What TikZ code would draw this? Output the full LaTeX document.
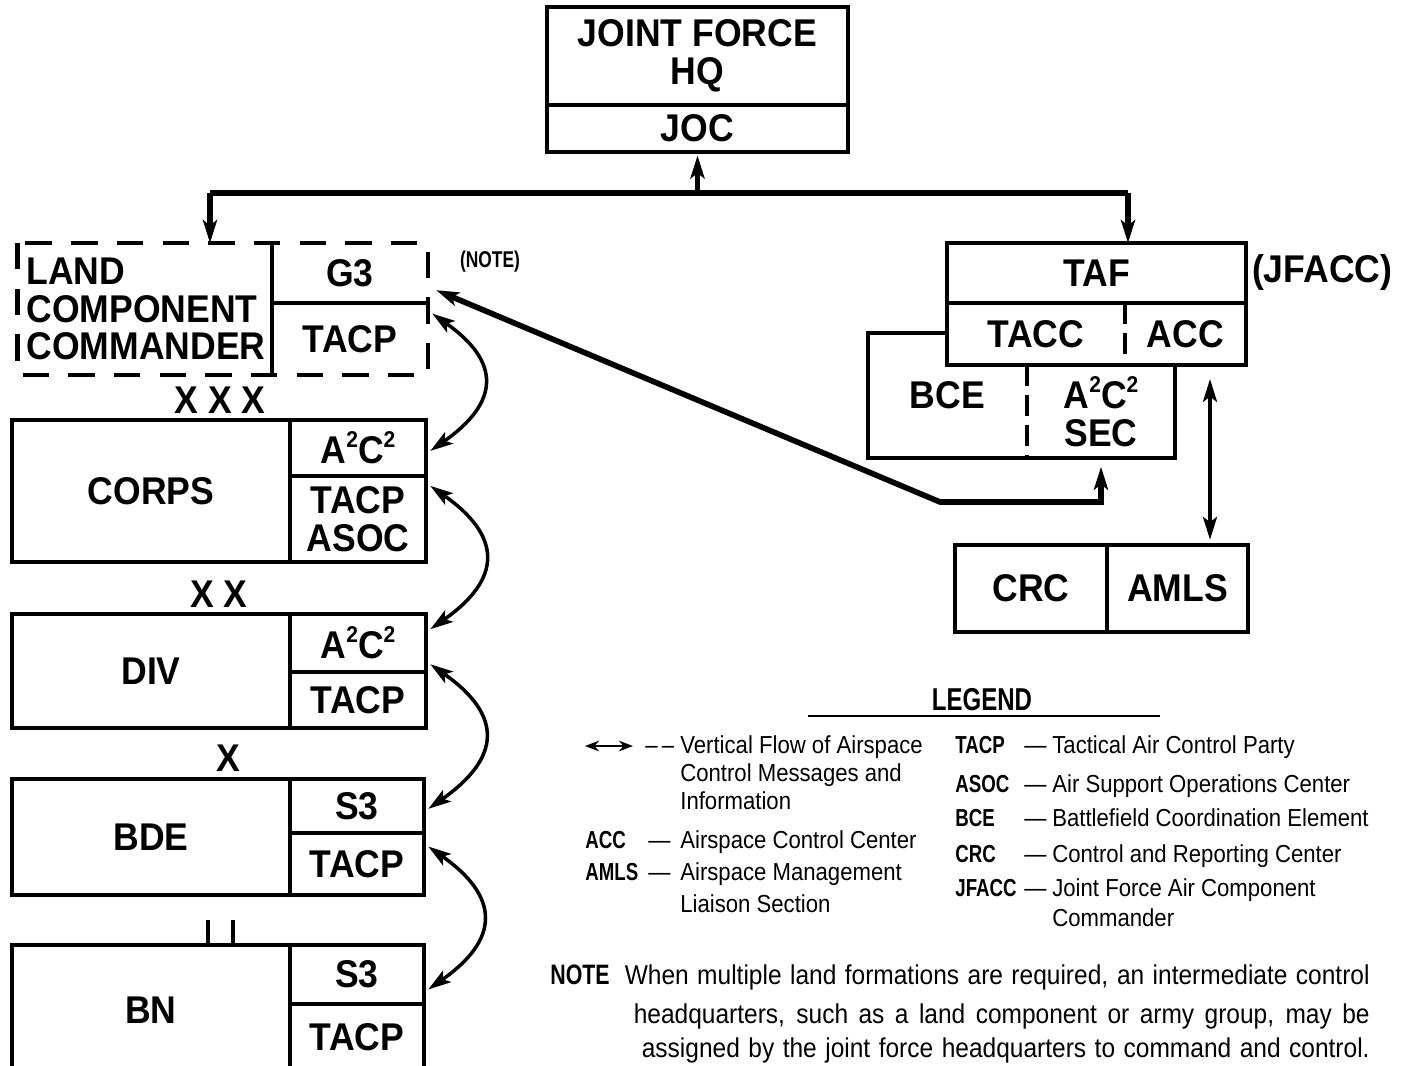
\documentclass[tikz,border=0pt]{standalone}
\usepackage{fontspec}
\setmainfont{Liberation Sans}
\newfontfamily\boxfont{Liberation Sans}[FakeStretch=0.92]
\newfontfamily\legfont{Liberation Sans}[FakeStretch=0.9]
\newfontfamily\keyfont{Liberation Sans}[FakeStretch=0.76]
\newcommand\sqd{\raisebox{0.42em}{\fontsize{13}{13}\selectfont 2}}
\usetikzlibrary{arrows.meta}

\begin{document}
\begin{tikzpicture}[x=0.02cm, y=-0.02cm,
  >={Stealth[length=13pt,width=8pt,inset=3pt]},
  cell/.style={draw, line width=1.8pt, inner sep=0pt, outer sep=0pt, align=center,
    font=\boxfont\bfseries\fontsize{22}{21.5}\selectfont},
  bare/.style={cell, draw=none},
  wh/.style 2 args={minimum width=#1*0.02cm, minimum height=#2*0.02cm},
  boxline/.style={line width=2.8pt},
  divline/.style={line width=1.8pt},
  bus/.style={line width=3.2pt},
  flow/.style={line width=2pt, <->, shorten <=3pt, shorten >=3pt},
  swing/.style={out=-35, in=35, looseness=1.6},
  legtxt/.style={font=\legfont\fontsize{14}{16}\selectfont, anchor=base west, inner sep=0pt},
  legkey/.style={legtxt, font=\keyfont\bfseries\fontsize{14}{16}\selectfont},
  notetxt/.style={font=\legfont\fontsize{15.5}{18}\selectfont, inner sep=0pt}]

\useasboundingbox (0,0) rectangle (1413,1065);

% joint force headquarters
\node[cell, wh={301}{98}] (hq) at (697.5,56) {JOINT FORCE\\HQ};
\node[cell, wh={301}{47}] (joc) at (697.5,128.5) {JOC};
\draw[boxline] (hq.north west) rectangle (joc.south east);

% land component commander
\node[bare, wh={257}{132}, align=left] (lcc) at (146,309) {LAND\\COMPONENT\\COMMANDER};
\node[bare, wh={156}{60}] (lccG) at (350,273) {G3};
\node[bare, wh={156}{72}] (lccT) at (350,339) {TACP};
\draw[boxline, dash pattern=on 15pt off 11pt] (lcc.north west) rectangle (lccT.south east);
\draw[divline] (lccG.north west) -- (lccT.south west) (lccG.south west) -- (lccG.south east);
\node[bare, font=\keyfont\bfseries\fontsize{13}{12}\selectfont] (noteref) at (490,262) {(NOTE)};

% corps
\node[bare] (echCorps) at (220,400) {X X X};
\node[cell, wh={278}{142}] (corps) at (151,491) {CORPS};
\node[cell, wh={136}{56}] (corpsA) at (358,448) {A\sqd C\sqd};
\node[cell, wh={136}{86}] (corpsT) at (358,519) {TACP\\ASOC};
\draw[boxline] (corps.north west) rectangle (corpsT.south east);

% division
\node[bare] (echDiv) at (219,594) {X X};
\node[cell, wh={278}{114}] (div) at (151,671) {DIV};
\node[cell, wh={136}{58}] (divA) at (358,643) {A\sqd C\sqd};
\node[cell, wh={136}{56}] (divT) at (358,700) {TACP};
\draw[boxline] (div.north west) rectangle (divT.south east);

% brigade
\node[bare] (echBde) at (228,758) {X};
\node[cell, wh={278}{116}] (bde) at (151,837) {BDE};
\node[cell, wh={134}{54}] (bdeS) at (357,806) {S3};
\node[cell, wh={134}{62}] (bdeT) at (357,864) {TACP};
\draw[boxline] (bde.north west) rectangle (bdeT.south east);

% battalion
\draw[line width=2.2pt] (208,920) -- (208,945) (233,920) -- (233,945);
\node[cell, wh={278}{130}] (bn) at (151,1010) {BN};
\node[cell, wh={134}{59}] (bnS) at (357,974.5) {S3};
\node[cell, wh={134}{66}] (bnT) at (357,1037) {TACP};
\draw[boxline] (bn.north west) rectangle (bnT.south east);

% air force side
\node[cell, wh={299}{60}] (taf) at (1096.5,273) {TAF};
\node[bare, wh={178}{62}] (tacc) at (1036,334) {TACC};
\node[bare, wh={121}{62}] (acc) at (1185.5,334) {ACC};
\node[bare, wh={159}{125}] (bce) at (947.5,395.5) {BCE};
\node[bare, wh={148}{93}] (sec) at (1101,411.5) {A\sqd C\sqd\\SEC};
\draw[boxline] (tacc.west |- bce.north) -- (bce.north west) -- (bce.south west)
  -- (sec.south east) -- (sec.north east);
\draw[boxline] (taf.north west) rectangle (acc.south east);
\draw[divline, dash pattern=on 12pt off 5pt] (tacc.north east) -- (tacc.south east);
\draw[divline, dash pattern=on 12pt off 5pt] (sec.north west) -- (sec.south west);
\node[bare, anchor=west] (jfacc) at (1252,273) {(JFACC)};

\node[cell, wh={152}{87}] (crc) at (1031,588.5) {CRC};
\node[cell, wh={141}{87}] (amls) at (1177.5,588.5) {AMLS};
\draw[boxline] (crc.north west) rectangle (amls.south east);

% command lines
\coordinate (busL) at (210,193);
\coordinate (busR) at (1128,193);
\coordinate (bend) at (940,502);
\coordinate (vflow) at (1210,0);
\draw[bus] (busL) -- (busR);
\draw[bus, ->] (busL) -- (busL |- lcc.north);
\draw[bus, ->] (busR) -- (busR |- taf.north);
\draw[bus, ->, shorten >=2pt] (busL -| joc.south) -- (joc.south);

% airspace control flow
\draw[flow] (lccT.20) to[swing] (corpsA.-5);
\draw[flow] (corpsT.28) to[swing] (divA.9);
\draw[flow] (divA.-15) to[swing] (bdeS.-5);
\draw[flow] (bdeT.17) to[swing] (bnS.-15);
\draw[flow, line width=3.2pt, shorten <=5pt, shorten >=5pt] (lccG.-10) -- (bend) -| (sec.south);
\draw[flow, shorten <=8pt] (vflow |- acc.south) -- (vflow |- amls.north);

% legend
\node[legkey, anchor=center, font=\keyfont\bfseries\fontsize{18}{18}\selectfont] (legend) at (982,700) {LEGEND};
\draw[line width=1.5pt] (808,716) -- (1160,716);
\coordinate (keyL) at (585,746);
\coordinate (keyR) at (633,746);
\draw[<->, line width=1.5pt, >={Stealth[length=8pt,width=6pt]}] (keyL) -- (keyR);
\node[legtxt] (kDash) at (645,753) {\textendash\,\textendash};
\node[legtxt] (kFlow1) at (680,753) {Vertical Flow of Airspace};
\node[legtxt] (kFlow2) at (680,781) {Control Messages and};
\node[legtxt] (kFlow3) at (680,809) {Information};
\node[legkey] (kAcc) at (585,848) {ACC};
\node[legtxt] (kAccD) at (648,848) {\textemdash};
\node[legtxt] (kAccT) at (680,848) {Airspace Control Center};
\node[legkey] (kAmls) at (585,880) {AMLS};
\node[legtxt] (kAmlsD) at (648,880) {\textemdash};
\node[legtxt] (kAmlsT) at (680,880) {Airspace Management};
\node[legtxt] (kAmlsT2) at (680,912) {Liaison Section};

\node[legkey] (kTacp) at (955,753) {TACP};
\node[legtxt] (kTacpD) at (1024,753) {\textemdash};
\node[legtxt] (kTacpT) at (1052,753) {Tactical Air Control Party};
\node[legkey] (kAsoc) at (955,792) {ASOC};
\node[legtxt] (kAsocD) at (1024,792) {\textemdash};
\node[legtxt] (kAsocT) at (1052,792) {Air Support Operations Center};
\node[legkey] (kBce) at (955,826) {BCE};
\node[legtxt] (kBceD) at (1024,826) {\textemdash};
\node[legtxt] (kBceT) at (1052,826) {Battlefield Coordination Element};
\node[legkey] (kCrc) at (955,862) {CRC};
\node[legtxt] (kCrcD) at (1024,862) {\textemdash};
\node[legtxt] (kCrcT) at (1052,862) {Control and Reporting Center};
\node[legkey] (kJfacc) at (955,896) {JFACC};
\node[legtxt] (kJfaccD) at (1024,896) {\textemdash};
\node[legtxt] (kJfaccT) at (1052,896) {Joint Force Air Component};
\node[legtxt] (kJfaccT2) at (1052,926) {Commander};

% note
\node[notetxt, font=\keyfont\bfseries\fontsize{16}{18}\selectfont, anchor=base west] (noteTag) at (550,984) {NOTE};
\node[notetxt, anchor=base east] (note1) at (1370,984) {\makebox[14.9cm][s]{When multiple land formations are required, an intermediate control}};
\node[notetxt, anchor=base east] (note2) at (1370,1023) {\makebox[14.72cm][s]{headquarters, such as a land component or army group, may be}};
\node[notetxt, anchor=base east] (note3) at (1370,1057) {\makebox[14.56cm][s]{assigned by the joint force headquarters to command and control.}};
\end{tikzpicture}
\end{document}
